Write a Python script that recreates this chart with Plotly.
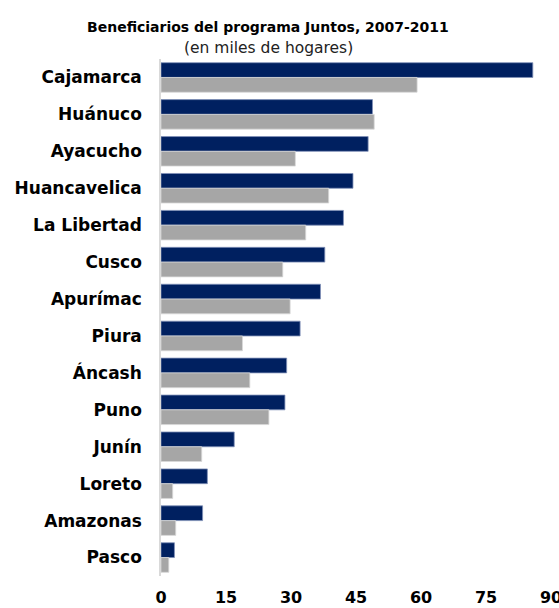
import plotly.graph_objects as go

regions = ["Cajamarca", "Huánuco", "Ayacucho", "Huancavelica", "La Libertad", "Cusco",
           "Apurímac", "Piura", "Áncash", "Puno", "Junín", "Loreto", "Amazonas", "Pasco"]
values_2011 = [85.8, 48.8, 47.8, 44.3, 42.1, 37.8, 36.8, 32.1, 29.0, 28.6, 16.9, 10.7, 9.6, 3.1]
values_2007 = [59.1, 49.2, 31.0, 38.7, 33.4, 28.1, 29.8, 18.8, 20.5, 24.9, 9.4, 2.7, 3.4, 1.8]
x_ticks = [0, 15, 30, 45, 60, 75, 90]

FONT = "DejaVu Sans"
W, H = 559, 608
L, R, T, B = 160.7, 8.3, 58.5, 31.5

fig = go.Figure()
fig.add_trace(go.Bar(y=regions, x=values_2011, orientation="h", name="2011",
                     marker=dict(color="#002060", line=dict(color="#8090b8", width=0.8))))
fig.add_trace(go.Bar(y=regions, x=values_2007, orientation="h", name="2007",
                     marker=dict(color="#a6a6a6", line=dict(color="#d8d8d8", width=0.8))))

pw = W - L - R
ph = H - T - B

fig.update_layout(
    width=W, height=H,
    margin=dict(l=L, r=R, t=T, b=B, pad=0),
    paper_bgcolor="white", plot_bgcolor="white",
    barmode="group", bargap=0.2, bargroupgap=0,
    showlegend=False,
    font=dict(family=FONT, color="#000000"),
    xaxis=dict(range=[0, 90], tickvals=x_ticks, showgrid=False, zeroline=False,
               showline=False, ticks="", automargin=False, ticklabeloverflow="allow",
               tickfont=dict(size=16, family=FONT, weight="bold"),
               ticklabelstandoff=10),
    yaxis=dict(autorange="reversed", showgrid=False, zeroline=False, showline=True,
               linecolor="#d9d9d9", linewidth=1.5, ticks="", automargin=False,
               tickfont=dict(size=17, family=FONT, weight="bold"),
               ticklabelstandoff=14),
    annotations=[
        dict(text="<b>Beneficiarios del programa Juntos, 2007-2011</b>",
             x=(268 - L) / pw, y=(H - 26 - B) / ph,
             xref="paper", yref="paper", showarrow=False, xanchor="center", yanchor="middle",
             font=dict(size=14, family=FONT, color="#000000")),
        dict(text="(en miles de hogares)",
             x=(268 - L) / pw, y=(H - 47 - B) / ph,
             xref="paper", yref="paper", showarrow=False, xanchor="center", yanchor="middle",
             font=dict(size=15.5, family=FONT, color="#222222")),
    ],
)

fig.write_html(
    "out.html",
    config={"displayModeBar": False},
    post_script="document.body.style.margin='0';document.body.style.overflow='hidden';",
)
